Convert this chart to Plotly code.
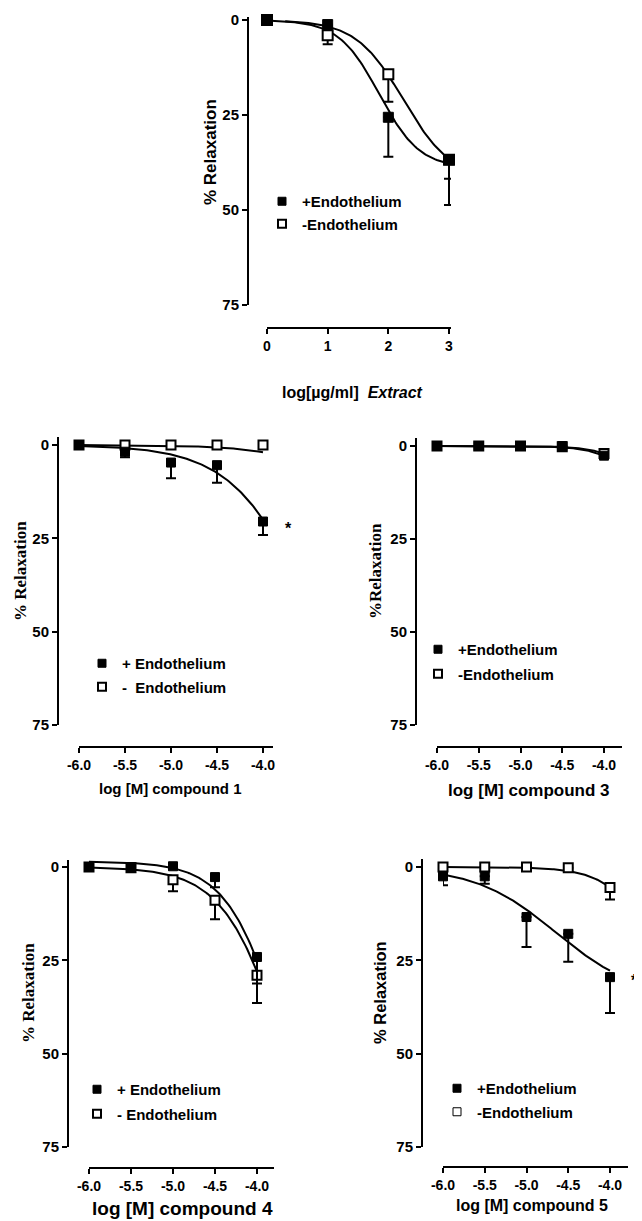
import numpy as np
import plotly.graph_objects as go

# page is 642x1221; the html body has an 8px margin, so the figure is drawn 8px in
PAGE_W, PAGE_H, OFF = 642, 1221, 8
W, H = PAGE_W - OFF, PAGE_H - OFF

# ---------------- data ----------------
# Panel 1: extract, x = log[ug/ml]
ext_x = [0, 1, 2, 3]
ext_plus = [0.0, 1.2, 25.6, 36.8]
ext_plus_err = [0.0, 0.5, 10.4, 11.9]
ext_minus = [0.0, 4.0, 14.3, 36.8]
ext_minus_err = [0.0, 2.4, 7.2, 5.0]

# Compounds, x = log [M]
conc_x = [-6.0, -5.5, -5.0, -4.5, -4.0]
conc_ticktext = ["-6.0", "-5.5", "-5.0", "-4.5", "-4.0"]

c1_plus = [0.0, 1.8, 4.7, 5.4, 20.5]
c1_plus_err = [0.0, 1.5, 4.2, 4.7, 3.6]
c1_minus = [0.0, 0.0, 0.0, 0.0, 0.0]
c1_minus_err = [0.0, 0.0, 0.0, 0.0, 0.0]

c3_plus = [0.0, 0.0, 0.0, 0.0, 2.6]
c3_plus_err = [0.0, 0.0, 0.0, 0.0, 0.0]
c3_minus = [0.0, 0.0, 0.0, 0.2, 2.0]
c3_minus_err = [0.0, 0.0, 0.0, 0.0, 0.0]

c4_plus = [0.0, 0.0, -0.2, 2.7, 24.1]
c4_plus_err = [0.0, 0.0, 0.0, 2.7, 7.1]
c4_minus = [0.0, 0.2, 3.4, 8.9, 29.0]
c4_minus_err = [0.0, 0.0, 3.1, 5.1, 7.4]

c5_plus = [2.5, 2.5, 13.4, 17.9, 29.5]
c5_plus_err = [2.4, 2.0, 8.0, 7.5, 9.6]
c5_minus = [0.0, 0.0, 0.0, 0.2, 5.5]
c5_minus_err = [0.0, 0.0, 0.0, 0.0, 3.2]

# fitted sigmoid curves: [bottom, top, logEC50, Hill slope]
ext_plus_fit = [0.0, 39.0, 1.85, 1.3]
ext_minus_fit = [0.0, 42.0, 2.25, 1.1]
c1_plus_fit = [0.0, 100.0, -3.385, 0.98]
c1_minus_fit = [0.0, 100.0, -2.3, 1.0]
c3_plus_fit = [0.0, 100.0, -3.06, 1.78]
c3_minus_fit = [0.0, 100.0, -3.13, 1.78]
c4_plus_fit = [-1.5, 100.0, -3.65, 1.29]
c4_minus_fit = [0.0, 100.0, -3.655, 1.19]
c5_plus_fit = [0.0, 35.0, -4.65, 0.9]
c5_minus_fit = [0.0, 100.0, -3.14, 1.436]

SANS = "Liberation Sans, Arial, sans-serif"
SERIF = "Liberation Serif, Times New Roman, serif"


def hill(p, xs):
    b, t, l, h = p
    xs = np.asarray(xs, dtype=float)
    return b + (t - b) / (1.0 + 10.0 ** (h * (l - xs)))


def fx(px):
    return (px - OFF) / W


def fy(py):
    return 1 - (py - OFF) / H


# ---------------- panel geometry (page pixels) ----------------
panels = [
    dict(yx=248, ytop=17, y0=20, y75=305, xl=267, xr=451, x0px=267, x1px=449,
         xv0=0, xv1=3, xline=328, tickvals=ext_x, ticktext=["0", "1", "2", "3"]),
    dict(yx=58, ytop=437, y0=445, y75=725, xl=79, xr=273, x0px=79, x1px=263,
         xv0=-6, xv1=-4, xline=747, tickvals=conc_x, ticktext=conc_ticktext),
    dict(yx=416, ytop=438, y0=446, y75=725, xl=437, xr=622, x0px=437, x1px=604,
         xv0=-6, xv1=-4, xline=747, tickvals=conc_x, ticktext=conc_ticktext),
    dict(yx=68, ytop=860, y0=867, y75=1147, xl=89, xr=274, x0px=89, x1px=257,
         xv0=-6, xv1=-4, xline=1168, tickvals=conc_x, ticktext=conc_ticktext),
    dict(yx=422, ytop=859, y0=867, y75=1147, xl=443, xr=628, x0px=443, x1px=610,
         xv0=-6, xv1=-4, xline=1167, tickvals=conc_x, ticktext=conc_ticktext),
]

fig = go.Figure()
layout = {}

for i, p in enumerate(panels):
    n = "" if i == 0 else str(i + 1)
    ppu_y = (p["y75"] - p["y0"]) / 75.0
    ymin = -(p["y0"] - p["ytop"]) / ppu_y
    ppu_x = (p["x1px"] - p["x0px"]) / (p["xv1"] - p["xv0"])
    xmin = p["xv0"] - (p["x0px"] - p["xl"]) / ppu_x
    xmax = p["xv0"] + (p["xr"] - p["x0px"]) / ppu_x
    layout["xaxis" + n] = dict(
        domain=[fx(p["xl"]), fx(p["xr"])], range=[xmin, xmax],
        anchor="free", position=fy(p["xline"]), automargin=False,
        showline=True, linecolor="black", linewidth=2,
        ticks="outside", ticklen=5, tickwidth=2, tickcolor="black",
        tickvals=p["tickvals"], ticktext=p["ticktext"],
        tickfont=dict(family=SANS, size=14, color="black", weight="bold"),
        showgrid=False, zeroline=False, fixedrange=True,
    )
    layout["yaxis" + n] = dict(
        domain=[fy(p["y75"]), fy(p["ytop"])], range=[75, ymin],
        anchor="free", position=fx(p["yx"]), automargin=False,
        showline=True, linecolor="black", linewidth=2,
        ticks="outside", ticklen=5, tickwidth=2, tickcolor="black",
        tickvals=[0, 25, 50, 75], ticktext=["0", "25", "50", "75"],
        tickfont=dict(family=SANS, size=15, color="black", weight="bold"),
        showgrid=False, zeroline=False, fixedrange=True,
    )

series = [
    (ext_x, ext_plus, ext_plus_err, ext_minus, ext_minus_err, ext_plus_fit, ext_minus_fit,
     (0, 3), (0.3, 3), 10),
    (conc_x, c1_plus, c1_plus_err, c1_minus, c1_minus_err, c1_plus_fit, c1_minus_fit,
     (-6, -4), (-6, -4), 9),
    (conc_x, c3_plus, c3_plus_err, c3_minus, c3_minus_err, c3_plus_fit, c3_minus_fit,
     (-6, -4), (-6, -4), 9),
    (conc_x, c4_plus, c4_plus_err, c4_minus, c4_minus_err, c4_plus_fit, c4_minus_fit,
     (-6, -4), (-6, -4), 9),
    (conc_x, c5_plus, c5_plus_err, c5_minus, c5_minus_err, c5_plus_fit, c5_minus_fit,
     (-6, -4), (-6, -4), 9),
]

legend_names = [
    ("+Endothelium", "-Endothelium"),
    ("+ Endothelium", "-\u00a0\u00a0Endothelium"),
    ("+Endothelium", "-Endothelium"),
    ("+ Endothelium", "- Endothelium"),
    ("+Endothelium", "-Endothelium"),
]
legend_pos = [(282, 202), (102, 664), (438, 650), (97, 1090), (457, 1089)]
legend_gap = [21, 24, 25, 25, 24]

for i, (xs, yp, ep, ym, em, fp, fm, rp, rm, ms) in enumerate(series):
    n = "" if i == 0 else str(i + 1)
    xa, ya = "x" + n, "y" + n
    lg = "legend" + n
    cx = np.linspace(rp[0], rp[1], 120)
    fig.add_trace(go.Scatter(x=cx, y=hill(fp, cx), mode="lines", xaxis=xa, yaxis=ya,
                             line=dict(color="black", width=2), showlegend=False,
                             cliponaxis=False, hoverinfo="skip"))
    cx2 = np.linspace(rm[0], rm[1], 120)
    fig.add_trace(go.Scatter(x=cx2, y=hill(fm, cx2), mode="lines", xaxis=xa, yaxis=ya,
                             line=dict(color="black", width=2), showlegend=False,
                             cliponaxis=False, hoverinfo="skip"))
    fig.add_trace(go.Scatter(
        x=xs, y=ym, mode="markers", xaxis=xa, yaxis=ya, showlegend=False, cliponaxis=False,
        marker=dict(symbol="square", size=ms, color="white", line=dict(color="black", width=2)),
        error_y=dict(type="data", symmetric=False, array=em, arrayminus=[0] * len(em),
                     color="black", thickness=2, width=5)))
    fig.add_trace(go.Scatter(
        x=xs, y=yp, mode="markers", xaxis=xa, yaxis=ya, showlegend=False, cliponaxis=False,
        marker=dict(symbol="square", size=ms, color="black", line=dict(color="black", width=1)),
        error_y=dict(type="data", symmetric=False, array=ep, arrayminus=[0] * len(ep),
                     color="black", thickness=2, width=5)))
    fig.add_trace(go.Scatter(x=[None], y=[None], mode="markers", xaxis=xa, yaxis=ya,
                             name=legend_names[i][0], legend=lg, legendgroup=f"g{i}a",
                             marker=dict(symbol="square", size=8, color="black",
                                         line=dict(color="black", width=1))))
    fig.add_trace(go.Scatter(x=[None], y=[None], mode="markers", xaxis=xa, yaxis=ya,
                             name=legend_names[i][1], legend=lg, legendgroup=f"g{i}b",
                             marker=dict(symbol="square", size=8, color="white",
                                         line=dict(color="black", width=1 if i == 4 else 2))))
    mx, my = legend_pos[i]
    layout[lg] = dict(x=fx(mx - 20), y=fy(my - 17), xanchor="left", yanchor="top",
                      bgcolor="rgba(0,0,0,0)", borderwidth=0, itemwidth=30,
                      tracegroupgap=max(0, legend_gap[i] - 23),
                      font=dict(family=SANS, size=15, color="black", weight="bold"))

annotations = []


def ann(text, x, y, size, family=SANS, angle=0):
    annotations.append(dict(text=text, x=fx(x), y=fy(y), xref="paper", yref="paper",
                            showarrow=False, textangle=angle, xanchor="center", yanchor="middle",
                            font=dict(family=family, size=size, color="black", weight="bold")))


# x titles
ann("log[µg/ml]  <i>Extract</i>", 352, 392, 16)
ann("log [M] compound 1", 170, 789, 15)
ann("log [M] compound 3", 528, 790, 17)
ann("log [M] compound 4", 182, 1208, 19)
ann("log [M] compound 5", 532, 1205, 16)
# y titles
ann("% Relaxation", 210, 152, 17, SANS, -90)
ann("% Relaxation", 20, 571, 17, SERIF, -90)
ann("%Relaxation", 375, 571, 17, SERIF, -90)
ann("% Relaxation", 28, 993, 17, SERIF, -90)
ann("% Relaxation", 380, 993, 16.5, SANS, -90)
# significance marks
ann("*", 288, 528, 16)
ann("*", 634, 980, 16)

fig.update_layout(
    template="none",
    width=W, height=H, margin=dict(l=0, r=0, t=0, b=0, autoexpand=False),
    paper_bgcolor="white", plot_bgcolor="white",
    annotations=annotations, **layout,
)

fig.write_html("out.html")
